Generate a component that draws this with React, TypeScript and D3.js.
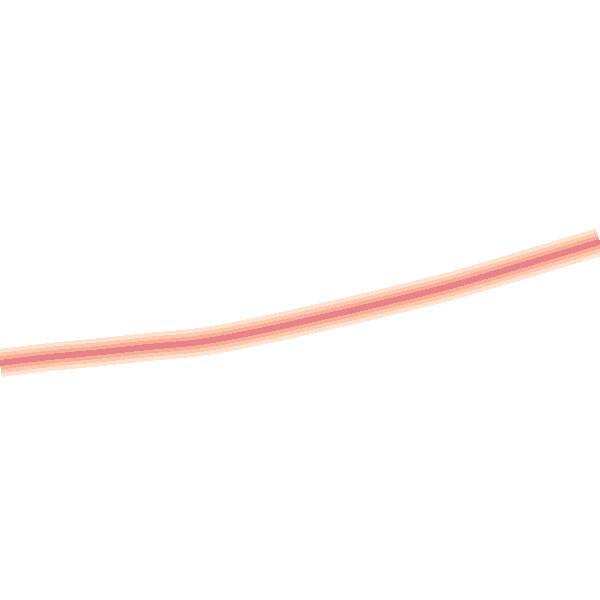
import React from 'react';
import * as d3 from 'd3';

// sample positions along the x axis and the line's values
const steps = [0, 1, 2, 3, 4, 5, 6, 7, 8, 9, 10, 11, 12];
const values = [39.5, 40.5, 41.3, 42.2, 43.0, 44.5, 46.3, 48.2, 50.2, 52.3, 54.7, 57.2, 59.7];

// halo layers, outside in
const layerColors = ['#fee2cd', '#fcc9ae', '#f8ad98', '#e8838a'];
const layerWidths = [28, 20, 13, 6];

const W = 600;
const H = 600;

export default function App() {
  const x = d3.scaleLinear().domain([0, 12]).range([0, W]);
  const y = d3.scaleLinear().domain([0, 100]).range([H, 0]);

  const line = d3.line<number>()
    .x((_, i) => x(steps[i]))
    .y(d => y(d))
    .curve(d3.curveMonotoneX);

  const d = line(values) || '';

  return (
    <svg
      width={W}
      height={H}
      style={{ position: 'fixed', left: 0, top: 0, background: '#fff' }}
    >
      {layerColors.map((c, i) => (
        <path
          key={i}
          d={d}
          fill="none"
          stroke={c}
          strokeWidth={layerWidths[i]}
          strokeLinecap="butt"
          shapeRendering="crispEdges"
        />
      ))}
    </svg>
  );
}
